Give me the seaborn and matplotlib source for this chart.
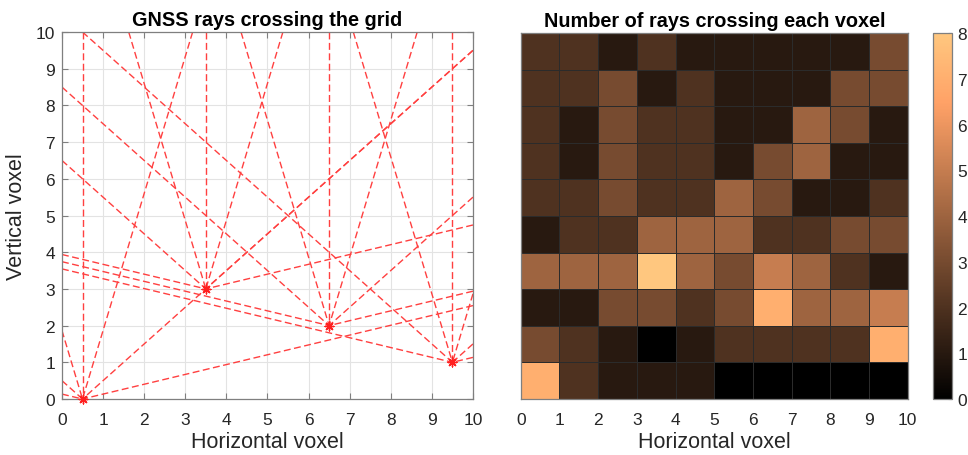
import numpy as np
import pandas as pd
import matplotlib
matplotlib.use("Agg")
import matplotlib.pyplot as plt
import seaborn as sns

# ---------------- data ----------------
receiver_x = [0.5, 3.5, 6.5, 9.5]
receiver_y = [0.0, 3.0, 2.0, 1.0]
ray_elevation_deg = [15, 45, 75, 90, 105, 135, 165]

horizontal_ticks = list(range(0, 11))
vertical_ticks = list(range(0, 11))
colorbar_ticks = list(range(0, 9))

# rows listed from top (y = 9..10) to bottom (y = 0..1)
row_y9 = [2, 2, 1, 2, 1, 1, 1, 1, 1, 3]
row_y8 = [2, 2, 3, 1, 2, 1, 1, 1, 3, 3]
row_y7 = [2, 1, 3, 2, 2, 1, 1, 4, 3, 1]
row_y6 = [2, 1, 3, 2, 2, 1, 3, 4, 1, 1]
row_y5 = [2, 2, 3, 2, 2, 4, 3, 1, 1, 2]
row_y4 = [1, 2, 2, 4, 4, 4, 2, 2, 3, 3]
row_y3 = [4, 4, 4, 8, 4, 3, 5, 4, 2, 1]
row_y2 = [1, 1, 3, 3, 2, 3, 7, 4, 4, 5]
row_y1 = [3, 2, 1, 0, 1, 2, 2, 2, 2, 7]
row_y0 = [7, 2, 1, 1, 1, 0, 0, 0, 0, 0]

counts = pd.DataFrame([row_y9, row_y8, row_y7, row_y6, row_y5,
                       row_y4, row_y3, row_y2, row_y1, row_y0])

# ---------------- style ----------------
sns.set_theme(style="white")
plt.rcParams["font.family"] = ["Liberation Sans", "DejaVu Sans"]
TXT = "#262626"
EDGE = "#7f7f7f"
plt.rcParams.update({
    "text.color": TXT,
    "axes.labelcolor": TXT,
    "xtick.color": TXT,
    "ytick.color": TXT,
})

fig = plt.figure(figsize=(9.68, 4.56), dpi=100)
ax1 = fig.add_axes([0.064, 0.1228, 0.4246, 0.8048])
ax2 = fig.add_axes([0.538, 0.1228, 0.3998, 0.8026])
cax = fig.add_axes([0.9638, 0.1228, 0.0196, 0.8026])

TICK_FS = 12.5
LABEL_FS = 15.5
TITLE_FS = 14.3

# ---------------- left panel: rays ----------------
LIM = 10.0
for x0, y0 in zip(receiver_x, receiver_y):
    for ang in ray_elevation_deg:
        dx, dy = np.cos(np.radians(ang)), np.sin(np.radians(ang))
        ts = []
        if dx > 1e-9:
            ts.append((LIM - x0) / dx)
        elif dx < -1e-9:
            ts.append((0 - x0) / dx)
        if dy > 1e-9:
            ts.append((LIM - y0) / dy)
        t = min(ts)
        # drawn from the grid boundary towards the receiver
        sns.lineplot(x=[x0 + t * dx, x0], y=[y0 + t * dy, y0], ax=ax1,
                     color="#ff4040", lw=1.0, sort=False, estimator=None)
        ax1.lines[-1].set_dashes((5, 2.5))
sns.scatterplot(x=receiver_x, y=receiver_y, ax=ax1, marker=(8, 2, 0),
                color="#ff2020", edgecolor="#ff2020", s=40, linewidth=1.0,
                zorder=5, clip_on=False)

ax1.set_xlim(0, 10)
ax1.set_ylim(0, 10)
ax1.set_xticks(horizontal_ticks)
ax1.set_yticks(vertical_ticks)
ax1.grid(True, color="#e3e3e3", lw=0.8)
ax1.set_axisbelow(True)
ax1.tick_params(direction="in", length=4, width=0.8, labelsize=TICK_FS,
                top=True, right=True, bottom=True, left=True, color=EDGE)
ax1.tick_params(axis="x", pad=9)
ax1.tick_params(axis="y", pad=5)
for s in ax1.spines.values():
    s.set_color(EDGE)
    s.set_linewidth(0.9)
ax1.set_xlabel("Horizontal voxel", fontsize=LABEL_FS, labelpad=3)
ax1.set_ylabel("Vertical voxel", fontsize=LABEL_FS, labelpad=6)
ax1.set_title("GNSS rays crossing the grid", fontsize=TITLE_FS,
              fontweight="bold", pad=5, color="black")

# ---------------- right panel: heatmap ----------------
sns.heatmap(counts, ax=ax2, cbar_ax=cax, cmap="copper", vmin=0, vmax=8,
            linewidths=0.6, linecolor="#2b2b2b", square=False,
            cbar_kws={"ticks": colorbar_ticks})
ax2.set_xticks(horizontal_ticks)
ax2.set_xticklabels([str(v) for v in horizontal_ticks], rotation=0)
ax2.set_yticks([])
ax2.tick_params(axis="x", direction="in", length=0, labelsize=TICK_FS, pad=9)
for s in ax2.spines.values():
    s.set_visible(True)
    s.set_color(EDGE)
    s.set_linewidth(0.9)
ax2.set_xlabel("Horizontal voxel", fontsize=LABEL_FS, labelpad=3)
ax2.set_ylabel("")
ax2.set_title("Number of rays crossing each voxel", fontsize=TITLE_FS,
              fontweight="bold", pad=5, color="black")

cax.tick_params(direction="in", length=3, width=0.8, labelsize=TICK_FS,
                color=EDGE, pad=4)
cb = ax2.collections[0].colorbar
if cb is not None:
    cb.outline.set_edgecolor(EDGE)
    cb.outline.set_linewidth(0.9)
    cb.outline.set_visible(True)

fig.savefig("out.png", dpi=100)
